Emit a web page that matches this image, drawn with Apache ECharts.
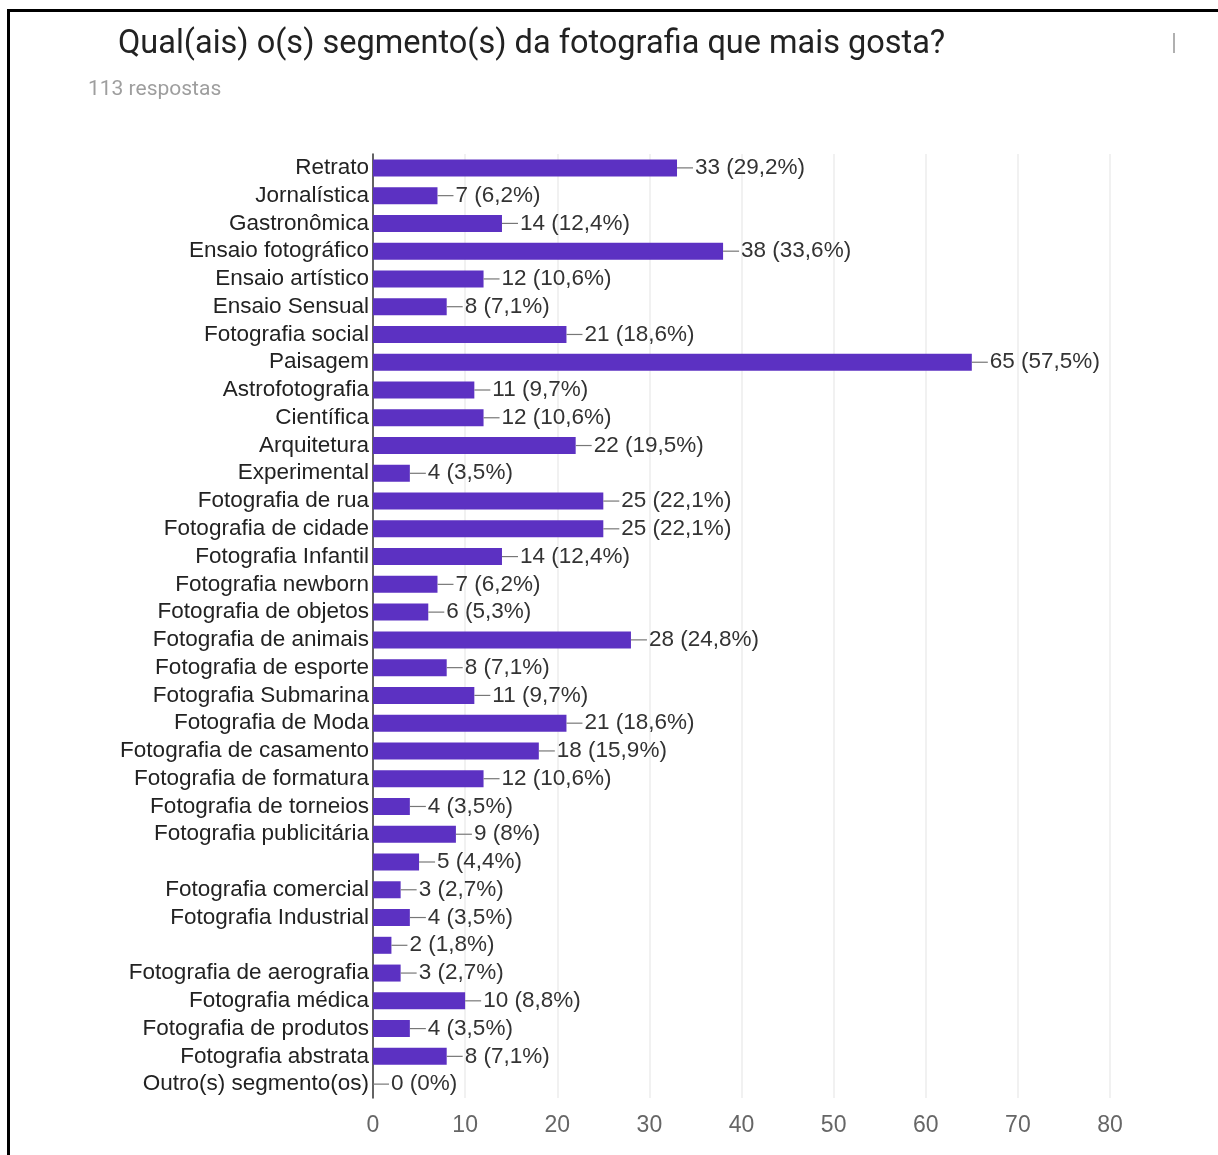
<!DOCTYPE html>
<html>
<head>
<meta charset="utf-8">
<script src="https://cdn.jsdelivr.net/npm/echarts@6/dist/echarts.min.js"></script>
<style>
  html, body { margin: 0; padding: 0; background: #fff; }
  #chart { width: 1218px; height: 1155px; }
</style>
</head>
<body>
<div id="chart"></div>
<script>
// Survey answers: photography segments people like most
const totalResponses = 113;

const categories = [
  'Retrato', 'Jornalística', 'Gastronômica', 'Ensaio fotográfico', 'Ensaio artístico',
  'Ensaio Sensual', 'Fotografia social', 'Paisagem', 'Astrofotografia', 'Científica',
  'Arquitetura', 'Experimental', 'Fotografia de rua', 'Fotografia de cidade', 'Fotografia Infantil',
  'Fotografia newborn', 'Fotografia de objetos', 'Fotografia de animais', 'Fotografia de esporte',
  'Fotografia Submarina', 'Fotografia de Moda', 'Fotografia de casamento', 'Fotografia de formatura',
  'Fotografia de torneios', 'Fotografia publicitária', '', 'Fotografia comercial',
  'Fotografia Industrial', ' ', 'Fotografia de aerografia', 'Fotografia médica',
  'Fotografia de produtos', 'Fotografia abstrata', 'Outro(s) segmento(os)'
];

const counts = [
  33, 7, 14, 38, 12,
  8, 21, 65, 11, 12,
  22, 4, 25, 25, 14,
  7, 6, 28, 8,
  11, 21, 18, 12,
  4, 9, 5, 3,
  4, 2, 3, 10,
  4, 8, 0
];

const axisTicks = [0, 10, 20, 30, 40, 50, 60, 70, 80];

function pctText(v) {
  const p = Math.round(v / totalResponses * 1000) / 10;
  return String(p).replace('.', ',') + '%';
}

const chart = echarts.init(document.getElementById('chart'), null, { renderer: 'canvas' });

chart.setOption({
  backgroundColor: '#ffffff',
  animation: false,
  title: {
    text: 'Qual(ais) o(s) segmento(s) da fotografia que mais gosta?',
    left: 113,
    top: 23,
    textStyle: { fontFamily: 'Roboto', fontSize: 32.5, fontWeight: 'normal', color: '#222222' }
  },
  graphic: [
    // response count under the title
    {
      type: 'text', left: 88, top: 79, silent: true,
      style: { text: '113 respostas', fontFamily: 'Roboto', fontSize: 21, fill: '#9e9e9e' }
    },
    // left and top frame lines
    { type: 'rect', shape: { x: 7, y: 9, width: 3, height: 1146 }, style: { fill: '#000' }, silent: true },
    { type: 'rect', shape: { x: 7, y: 9, width: 1211, height: 3 }, style: { fill: '#000' }, silent: true },
    // small cursor mark at top right
    { type: 'rect', shape: { x: 1173, y: 33, width: 2, height: 20 }, style: { fill: '#b0b0b0' }, silent: true }
  ],
  grid: { left: 373, right: 108, top: 154, bottom: 57, containLabel: false },
  xAxis: {
    type: 'value',
    min: axisTicks[0],
    max: axisTicks[axisTicks.length - 1],
    interval: axisTicks[1] - axisTicks[0],
    axisLine: { show: false },
    axisTick: { show: false },
    splitLine: { show: true, lineStyle: { color: '#ececec', width: 1.5 } },
    axisLabel: { color: '#666666', fontFamily: 'Liberation Sans', fontSize: 23, margin: 16 }
  },
  yAxis: {
    type: 'category',
    inverse: true,
    data: categories,
    axisLine: { show: true, lineStyle: { color: '#333333', width: 1.5 } },
    axisTick: { show: false },
    axisLabel: {
      color: '#222222', fontFamily: 'Liberation Sans', fontSize: 22.5, margin: 4, interval: 0
    }
  },
  series: [{
    type: 'bar',
    data: counts,
    barWidth: 17,
    itemStyle: { color: '#5c31c2' },
    label: {
      show: true,
      position: 'right',
      distance: 0,
      formatter: p => '{ln|}{t|' + p.value + ' (' + pctText(p.value) + ')}',
      rich: {
        ln: { width: 16, height: 1.2, backgroundColor: '#777777' },
        t: { color: '#333333', fontFamily: 'Liberation Sans', fontSize: 22.5, padding: [0, 0, 0, 2] }
      }
    }
  }]
});
</script>
</body>
</html>
